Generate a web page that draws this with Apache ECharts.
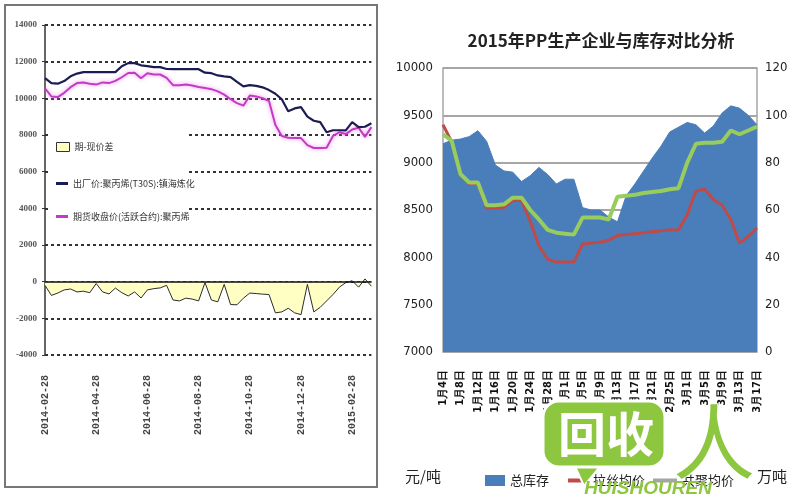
<!DOCTYPE html>
<html><head><meta charset="utf-8">
<script src="https://cdn.jsdelivr.net/npm/echarts@6/dist/echarts.min.js"></script>
<style>html,body{margin:0;padding:0;background:#fff}#c{width:800px;height:500px}</style>
</head><body><div id="c"></div>
<script>
// ---------- Left chart data ----------
const leftCats = ['2014-02-28','2014-03-07','2014-03-14','2014-03-21','2014-03-28','2014-04-07','2014-04-14','2014-04-21','2014-04-28','2014-05-07','2014-05-14','2014-05-21','2014-05-28','2014-06-07','2014-06-14','2014-06-21','2014-06-28','2014-07-07','2014-07-14','2014-07-21','2014-07-28','2014-08-07','2014-08-14','2014-08-21','2014-08-28','2014-09-07','2014-09-14','2014-09-21','2014-09-28','2014-10-07','2014-10-14','2014-10-21','2014-10-28','2014-11-07','2014-11-14','2014-11-21','2014-11-28','2014-12-07','2014-12-14','2014-12-21','2014-12-28','2015-01-07','2015-01-14','2015-01-21','2015-01-28','2015-02-07','2015-02-14','2015-02-21','2015-02-28','2015-03-07','2015-03-14','2015-03-21'];
const spread = [-200,-750,-620,-450,-400,-560,-520,-600,-100,-560,-670,-350,-600,-780,-560,-890,-450,-380,-340,-200,-1000,-1050,-900,-950,-1050,-50,-1000,-1100,-150,-1250,-1260,-900,-620,-650,-680,-700,-1700,-1650,-1450,-1700,-1800,-150,-1650,-1400,-1050,-700,-300,-50,50,-300,150,-250];
const exFactory = [11100,10830,10800,10940,11200,11350,11430,11430,11430,11430,11430,11430,11750,11920,11920,11800,11760,11700,11700,11600,11590,11590,11590,11590,11590,11400,11370,11250,11200,11160,10900,10650,10720,10680,10600,10450,10250,9950,9300,9450,9520,9000,8780,8700,8150,8260,8260,8250,8700,8430,8450,8640];
const futures = [10550,10100,10070,10300,10610,10830,10860,10800,10750,10870,10830,10950,11150,11380,11400,11100,11370,11300,11300,11120,10720,10720,10750,10700,10620,10560,10500,10380,10200,9950,9740,9600,10150,10100,10010,9850,8550,7950,7850,7830,7830,7450,7290,7290,7300,7950,8150,8050,8300,8400,7900,8430];
const leftNames = ['期-现价差','出厂价:聚丙烯(T30S):镇海炼化','期货收盘价(活跃合约):聚丙烯'];

// ---------- Right chart data ----------
const rightTitle = '2015年PP生产企业与库存对比分析';
const rightCats = ['1月4日','1月6日','1月8日','1月10日','1月12日','1月14日','1月16日','1月18日','1月20日','1月22日','1月24日','1月26日','1月28日','1月30日','2月1日','2月3日','2月5日','2月7日','2月9日','2月11日','2月13日','2月15日','2月17日','2月19日','2月21日','2月23日','2月25日','2月27日','3月1日','3月3日','3月5日','3月7日','3月9日','3月11日','3月13日','3月15日','3月17日'];
const inventory = [88,89.5,90,91,93.5,89,79,76.5,76,72,74.5,78,75,71,73,73,61,60,60,57,55,66,71,76.5,82,87,93,95,97,96,92.5,95.5,101,104,103,100,96];
const drawPrice = [9400,9220,8880,8780,8780,8520,8520,8530,8600,8600,8380,8120,7980,7950,7950,7950,8140,8150,8160,8180,8230,8240,8250,8260,8270,8280,8290,8290,8450,8700,8720,8610,8550,8400,8150,8220,8310];
const copoPrice = [9300,9230,8880,8790,8790,8550,8550,8560,8630,8630,8500,8400,8290,8260,8250,8240,8420,8420,8420,8400,8640,8650,8660,8680,8690,8700,8720,8730,9000,9200,9210,9210,9220,9340,9300,9340,9380];
const rightNames = ['总库存','拉丝均价','共聚均价'];
const unitLeft = '元/吨', unitRight = '万吨';

const narrow = "'Liberation Sans Narrow','DejaVu Sans Condensed','Liberation Sans',sans-serif";
const cjk = "'Noto Sans CJK SC',sans-serif";
const plain = v => String(v);

const chart = echarts.init(document.getElementById('c'), null, {renderer:'canvas'});
chart.setOption({
  animation:false,
  backgroundColor:'#fff',
  title:{text:rightTitle, left:596, top:27, textAlign:'center',
    textStyle:{fontSize:17, fontWeight:'bold', color:'#222', fontFamily:cjk}},
  grid:[
    {left:45, right:428.6, top:25, bottom:145},
    {left:443, right:43, top:68, bottom:148, show:true, borderColor:'#a6a6a6', borderWidth:1.5}
  ],
  xAxis:[
    {type:'category', gridIndex:0, data:leftCats, boundaryGap:false,
     axisLine:{show:false}, axisTick:{show:false}, splitLine:{show:false},
     axisLabel:{interval:7, rotate:90, margin:20, fontSize:10, fontWeight:'bold',
       fontFamily:"'Liberation Mono',monospace", color:'#444'}},
    {type:'category', gridIndex:1, data:rightCats, boundaryGap:false,
     axisLine:{show:false}, axisTick:{show:false}, splitLine:{show:false},
     axisLabel:{interval:1, rotate:90, margin:18, fontSize:11, fontWeight:'bold',
       fontFamily:narrow, color:'#111'}}
  ],
  yAxis:[
    {type:'value', gridIndex:0, min:-4000, max:14000, interval:2000,
     axisLine:{show:true, lineStyle:{color:'#333', width:1.5}},
     axisTick:{show:true, length:3, lineStyle:{color:'#333'}},
     axisLabel:{formatter:plain, fontSize:9, fontWeight:'bold', fontFamily:"'Liberation Serif',serif", color:'#555', margin:8},
     splitLine:{show:true, lineStyle:{type:[3,3], color:'#333', width:2}}},
    {type:'value', gridIndex:1, position:'left', min:7000, max:10000, interval:500,
     axisLine:{show:false}, axisTick:{show:false},
     axisLabel:{formatter:plain, fontSize:13, fontFamily:narrow, color:'#222', margin:10},
     splitLine:{show:true, lineStyle:{color:'#a6a6a6', width:2}}},
    {type:'value', gridIndex:1, position:'right', min:0, max:120, interval:20,
     axisLine:{show:false}, axisTick:{show:false},
     axisLabel:{formatter:plain, fontSize:13, fontFamily:narrow, color:'#222', margin:8},
     splitLine:{show:false}}
  ],
  legend:[
    {left:51, top:137, itemWidth:13, itemHeight:9, icon:'rect', data:[leftNames[0]],
     itemStyle:{borderColor:'#333', borderWidth:1},
     textStyle:{fontSize:9, color:'#333', fontFamily:cjk}},
    {left:51, top:174, itemWidth:12, itemHeight:3, icon:'rect', data:[leftNames[1]],
     textStyle:{fontSize:9, color:'#333', fontFamily:cjk}},
    {left:51, top:207, itemWidth:12, itemHeight:3, icon:'rect', data:[leftNames[2]],
     textStyle:{fontSize:9, color:'#333', fontFamily:cjk}},
    {left:480, top:469, itemWidth:20, itemHeight:11, icon:'rect', data:[rightNames[0]],
     textStyle:{fontSize:13, color:'#222', fontFamily:cjk}},
    {left:563, top:469, itemWidth:20, itemHeight:4, icon:'rect', data:[rightNames[1]],
     textStyle:{fontSize:13, color:'#222', fontFamily:cjk}},
    {left:648, top:469, itemWidth:24, itemHeight:4, icon:'rect',
     data:[{name:rightNames[2], itemStyle:{color:'#a5a5a5'}}],
     textStyle:{fontSize:13, color:'#222', fontFamily:cjk}}
  ],
  series:[
    {name:leftNames[0], type:'line', xAxisIndex:0, yAxisIndex:0, data:spread, symbol:'none',
     lineStyle:{color:'#2b2b2b', width:1}, itemStyle:{color:'#ffffc4'},
     areaStyle:{color:'#ffffc4', opacity:1}, z:2,
     markLine:{silent:true, symbol:'none', label:{show:false},
       lineStyle:{color:'#111', width:1.5, type:'solid'}, data:[{yAxis:0}]}},
    {name:leftNames[1], type:'line', xAxisIndex:0, yAxisIndex:0, data:exFactory, symbol:'none',
     lineStyle:{color:'#1c1c54', width:2.2}, itemStyle:{color:'#1c1c54'}, z:4},
    {name:leftNames[2], type:'line', xAxisIndex:0, yAxisIndex:0, data:futures, symbol:'none',
     lineStyle:{color:'#c43ac4', width:2, shadowColor:'rgba(230,120,230,0.8)', shadowBlur:4},
     itemStyle:{color:'#c43ac4'}, z:3},
    {name:rightNames[0], type:'line', xAxisIndex:1, yAxisIndex:2, data:inventory, symbol:'none',
     lineStyle:{color:'#4a7ebb', width:1}, itemStyle:{color:'#4a7ebb'},
     areaStyle:{color:'#4a7ebb', opacity:1}, z:2},
    {name:rightNames[1], type:'line', xAxisIndex:1, yAxisIndex:1, data:drawPrice, symbol:'none',
     lineStyle:{color:'#be4b48', width:3}, itemStyle:{color:'#be4b48'}, z:3},
    {name:rightNames[2], type:'line', xAxisIndex:1, yAxisIndex:1, data:copoPrice, symbol:'none',
     lineStyle:{color:'#98cc5c', width:4}, itemStyle:{color:'#98cc5c'}, z:4}
  ],
  graphic:[
    {type:'rect', z:3, shape:{x:48, y:124, width:138, height:101}, style:{fill:'#fff'}},
    {type:'rect', z:10, shape:{x:5, y:5, width:372, height:482}, style:{fill:'none', stroke:'#777', lineWidth:2}},
    {type:'text', z:10, x:405, y:476, style:{text:unitLeft, fontSize:15, fill:'#222', fontFamily:cjk, verticalAlign:'middle'}},
    {type:'text', z:10, x:757, y:476, style:{text:unitRight, fontSize:15, fill:'#222', fontFamily:cjk, verticalAlign:'middle'}},
    // watermark logo
    {type:'polygon', z:50, shape:{points:[[572,460],[604,462],[584,486]]}, style:{fill:'#8dc63f', stroke:'#fff', lineWidth:2}},
    {type:'rect', z:51, shape:{x:543, y:401, width:122, height:66, r:16}, style:{fill:'#8dc63f', stroke:'#fff', lineWidth:3}},
    {type:'text', z:52, x:606, y:434, style:{text:'回收', fontSize:48, fontWeight:'bold', fill:'#fff', fontFamily:cjk, align:'center', verticalAlign:'middle'}},
    {type:'text', z:52, x:714, y:442, style:{text:'人', fontSize:82, fill:'#8dc63f', fontFamily:cjk, align:'center', verticalAlign:'middle', stroke:'#fff', lineWidth:2}},
    {type:'text', z:52, x:648, y:489, style:{text:'HUISHOUREN', fontSize:19, fontWeight:'bold', fontStyle:'italic', fill:'#8dc63f', fontFamily:"'Liberation Sans',sans-serif", align:'center', verticalAlign:'middle'}}
  ]
});
</script></body></html>
